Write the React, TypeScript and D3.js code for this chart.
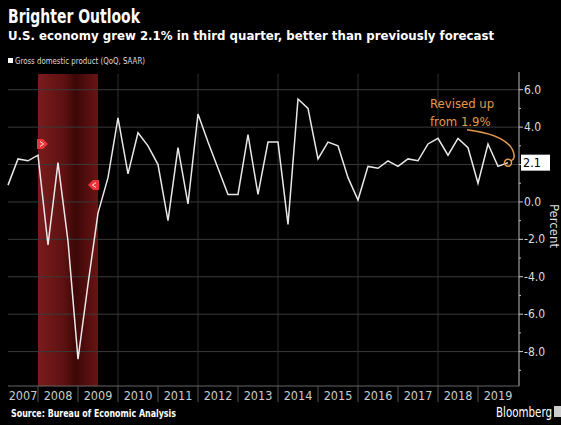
import React from 'react';
import * as d3 from 'd3';

// Real GDP growth, QoQ SAAR, 2007 Q1 .. 2019 Q3
const firstYear = 2007;
const gdpGrowth = [
  0.9, 2.3, 2.2, 2.5,
  -2.3, 2.1, -2.1, -8.4,
  -4.4, -0.6, 1.3, 4.5,
  1.5, 3.7, 3.0, 2.0,
  -1.0, 2.9, -0.1, 4.7,
  3.2, 1.8, 0.4, 0.4,
  3.6, 0.4, 3.2, 3.2,
  -1.2, 5.5, 5.0, 2.3,
  3.2, 3.0, 1.3, 0.1,
  1.9, 1.8, 2.2, 1.9,
  2.3, 2.2, 3.1, 3.4,
  2.5, 3.4, 2.9, 1.0,
  3.1, 1.9, 2.1,
];
const yearLabels = ['2007', '2008', '2009', '2010', '2011', '2012', '2013', '2014', '2015', '2016', '2017', '2018', '2019'];
const gridYears = [2010, 2012, 2014, 2016, 2018];
const majorTicks = [-8, -6, -4, -2, 0, 2, 4, 6];
const minorTicks = [-9, -7, -5, -3, -1, 1, 3, 5];
const recession = [2008.0, 2009.5];
const latestValue = 2.1;
const previousEstimate = 1.9;

const W = 561;
const H = 425;
const plotLeft = 8;
const plotRight = 518;
const plotTop = 74;
const plotBottom = 386;

const narrow = '"Liberation Sans Narrow", "DejaVu Sans Condensed", "Roboto", sans-serif';
const orange = '#e39a4e';

export default function App() {
  const x = d3.scaleLinear().domain([firstYear + 0.25, 2020]).range([plotLeft, plotRight]);
  const y = d3.scaleLinear().domain([-9.84, 6.84]).range([plotBottom, plotTop]);

  const points = gdpGrowth.map((v, i) => ({ t: firstYear + (i + 1) / 4, v }));
  const line = d3.line<{ t: number; v: number }>().x(d => x(d.t)).y(d => y(d.v));

  const last = points[points.length - 1];
  const lx = x(last.t);
  const ly = y(last.v);
  const axisX = plotRight + 1;

  const rx0 = x(recession[0]);
  const rx1 = x(recession[1]);

  return (
    <svg width={W} height={H} style={{ position: 'absolute', left: 0, top: 0, background: '#000' }}>
      <defs>
        <linearGradient id="rec" x1="0" x2="1" y1="0" y2="0">
          <stop offset="0%" stopColor="#7a1c1c" />
          <stop offset="45%" stopColor="#5c1010" />
          <stop offset="62%" stopColor="#3c0707" />
          <stop offset="100%" stopColor="#6a1414" />
        </linearGradient>
      </defs>
      <rect width={W} height={H} fill="#000" />

      {/* titles */}
      <text x={8} y={23} fill="#fff" fontFamily={narrow} fontWeight="bold" fontSize={19}
        textLength={132} lengthAdjust="spacingAndGlyphs">Brighter Outlook</text>
      <text x={8} y={40} fill="#fff" fontFamily={narrow} fontWeight="bold" fontSize={13.1}>
        U.S. economy grew 2.1% in third quarter, better than previously forecast
      </text>
      <rect x={8} y={58} width={5} height={5} fill="#fff" />
      <text x={15} y={64} fill="#ddd" fontFamily={narrow} fontSize={9.5}
        textLength={130} lengthAdjust="spacingAndGlyphs">Gross domestic product (QoQ, SAAR)</text>

      {/* recession shading */}
      <rect x={rx0} y={plotTop} width={rx1 - rx0} height={plotBottom - plotTop} fill="url(#rec)" />

      {/* grid */}
      {majorTicks.map(t => (
        <line key={'g' + t} x1={plotLeft} x2={axisX} y1={y(t)} y2={y(t)} stroke="#3a3a3a" strokeWidth={1} />
      ))}
      {gridYears.map(yr => (
        <line key={'v' + yr} x1={x(yr)} x2={x(yr)} y1={plotTop} y2={plotBottom} stroke="#2e2e2e" strokeWidth={1} />
      ))}

      {/* recession markers */}
      <g transform={`translate(${rx0 + 4},${y(3.1)})`}>
        <path d="M-5,-5 L1,-5 L6,0 L1,5 L-5,5 Z" fill="#e8343a" />
        <path d="M-2,-2.5 L1.5,0 L-2,2.5" fill="none" stroke="#fff" strokeWidth={0.9} />
      </g>
      <g transform={`translate(${rx1 - 4},${y(0.9)})`}>
        <path d="M5,-5 L-1,-5 L-6,0 L-1,5 L5,5 Z" fill="#e8343a" />
        <path d="M2,-2.5 L-1.5,0 L2,2.5" fill="none" stroke="#fff" strokeWidth={0.9} />
      </g>

      {/* series */}
      <path d={line(points) || ''} fill="none" stroke="#e8e8e8" strokeWidth={1.5} strokeLinejoin="miter" />

      {/* annotation */}
      <text x={430} y={108} fill={orange} fontFamily={narrow} fontSize={13}>Revised up</text>
      <text x={430} y={126} fill={orange} fontFamily={narrow} fontSize={13}>from {previousEstimate.toFixed(1)}%</text>
      <path
        d={`M${lx - 41},${ly - 33} Q${lx - 2},${ly - 28} ${lx + 5},${ly - 12} Q${lx + 8},${ly - 3} ${lx + 3},${ly - 2}`}
        fill="none" stroke={orange} strokeWidth={1.5} />
      <circle cx={lx} cy={ly} r={3.5} fill="none" stroke={orange} strokeWidth={1.5} />

      {/* right axis */}
      <line x1={axisX} x2={axisX} y1={plotTop - 2} y2={plotBottom} stroke="#bbb" strokeWidth={1} />
      {minorTicks.map(t => (
        <line key={'m' + t} x1={axisX} x2={axisX + 2} y1={y(t)} y2={y(t)} stroke="#bbb" />
      ))}
      {majorTicks.map(t => (
        <g key={'t' + t}>
          <line x1={axisX} x2={axisX + 4} y1={y(t)} y2={y(t)} stroke="#ccc" />
          {Math.abs(t - latestValue) > 0.5 && (
            <text x={axisX + 5} y={y(t) + 4} fill="#ddd" fontFamily={narrow} fontSize={12}>
              {t.toFixed(1)}
            </text>
          )}
        </g>
      ))}
      <rect x={axisX + 2} y={y(latestValue) - 8} width={29} height={16} fill="#fff" />
      <text x={axisX + 4} y={y(latestValue) + 4.5} fill="#000" fontFamily={narrow} fontSize={12.5}>
        {latestValue.toFixed(1)}
      </text>
      <text transform={`translate(550,226) rotate(90)`} textAnchor="middle" fill="#ddd"
        fontFamily={narrow} fontSize={13}>Percent</text>

      {/* bottom axis */}
      <line x1={plotLeft} x2={axisX} y1={plotBottom} y2={plotBottom} stroke="#666" />
      {yearLabels.map((yl, i) => {
        const yr = +yl;
        return (
          <g key={yl}>
            {i > 0 && (
              <line x1={x(yr)} x2={x(yr)} y1={plotBottom} y2={plotBottom + 16} stroke="#555" />
            )}
            <text x={(x(Math.max(yr, firstYear + 0.25)) + x(yr + 1)) / 2} y={400}
              textAnchor="middle" fill="#ccc" fontFamily={narrow} fontSize={12.5}>{yl}</text>
          </g>
        );
      })}

      {/* footer */}
      <text x={11} y={417} fill="#fff" fontFamily={narrow} fontWeight="bold" fontSize={11}
        textLength={165} lengthAdjust="spacingAndGlyphs">Source: Bureau of Economic Analysis</text>
      <text x={496} y={417} fill="#fff" fontFamily={narrow} fontSize={13.5}
        textLength={56} lengthAdjust="spacingAndGlyphs">Bloomberg</text>
      <rect x={554} y={406} width={7} height={11} fill="#ccc" />
    </svg>
  );
}
